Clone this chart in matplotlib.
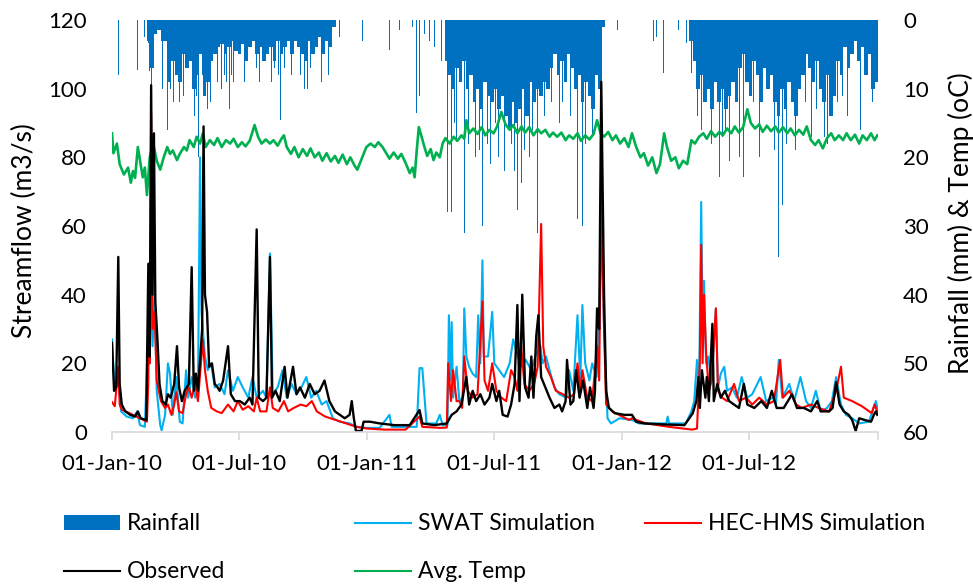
import numpy as np
import matplotlib
matplotlib.use("Agg")
import matplotlib.pyplot as plt
import matplotlib.dates as mdates
from matplotlib.patches import Patch
from matplotlib.lines import Line2D

plt.rcParams['font.family'] = ['Lato', 'DejaVu Sans']

# days counted from 01-Jan-2010
obs_day = [0, 3, 6, 9, 11, 14, 19, 26, 33, 37, 41, 49, 52, 54, 56, 58, 60, 62, 65, 68, 72,
           77, 80, 84, 89, 93, 96, 100, 104, 110, 114, 117, 120, 123, 129, 131, 133, 136, 139,
           143, 147, 151, 154, 159, 166, 170, 176, 183, 190, 197, 201, 207, 210, 216, 221, 226,
           229, 234, 240, 247, 251, 259, 264, 269, 276, 283, 290, 297, 304, 311, 319, 326, 333,
           340, 343, 346, 349, 357, 360, 369, 383, 404, 426, 440, 444, 461, 479, 486, 493, 500,
           507, 511, 516, 521, 527, 533, 540, 544, 550, 554, 559, 566, 571, 576, 580, 583, 587,
           591, 596, 600, 603, 607, 610, 614, 620, 626, 633, 640, 644, 649, 651, 656, 660, 664,
           669, 674, 680, 684, 689, 691, 694, 697, 700, 704, 707, 711, 719, 733, 744, 750, 761,
           790, 819, 826, 831, 836, 839, 841, 844, 849, 851, 854, 859, 861, 866, 871, 877, 883,
           890, 897, 904, 909, 919, 929, 937, 944, 951, 961, 973, 980, 990, 1000, 1009, 1014,
           1026, 1031, 1036, 1041, 1047, 1054, 1059, 1064, 1069, 1077, 1086, 1090, 1093, 1095]
obs_q = [26, 12, 13, 51, 14, 8, 6, 5, 4.5, 6, 4, 3.5, 49, 22, 101, 40, 87, 38, 27, 14, 9,
         8, 11, 10, 14, 25, 13, 9, 12, 14, 48, 12, 17, 12, 30, 89, 40, 35, 19,
         20, 14, 13, 12, 15, 25, 11, 9, 9, 8, 10, 8, 59, 10, 9, 10, 51,
         10, 12, 9, 19, 10, 19, 11, 13, 10, 14, 11, 12, 15, 9, 6, 5, 4,
         5, 9, 4, 0.3, 0.3, 3, 3, 2.5, 2, 2, 6.4, 2.5, 2, 2.5, 5, 6, 8,
         16, 8, 12, 9, 11, 8, 10, 14, 9, 12, 5, 4.5, 8, 14, 37, 9, 40,
         13, 10, 22, 10, 28, 34, 16, 13, 10, 7, 8, 6, 9, 21, 8, 9, 18,
         10, 15, 7, 13, 7, 12, 36, 30, 102, 40, 12, 7, 5.5, 5, 5, 3, 2.5,
         2.2, 2, 4, 5.5, 9, 16, 7, 18, 10, 16, 9, 31.5, 9, 14, 10, 12, 9,
         8, 7, 14, 8, 7, 9, 7, 12, 7, 7, 11, 7, 7, 6, 9, 6,
         6, 7, 14.5, 8, 6, 5, 3.5, 0.3, 4, 3.5, 3, 5, 6, 5]

swat_day = [0, 4, 9, 13, 21, 30, 36, 40, 47, 52, 55, 58, 61, 64, 69, 71, 76, 80, 83, 87, 92,
            97, 101, 106, 109, 114, 119, 123, 126, 128, 133, 137, 142, 147, 154, 161, 166, 173,
            180, 187, 195, 201, 207, 216, 221, 226, 230, 237, 244, 250, 257, 264, 271, 278, 285,
            292, 300, 307, 316, 326, 340, 350, 364, 383, 397, 400, 436, 440, 444, 450, 464, 469,
            473, 480, 482, 484, 486, 488, 493, 497, 502, 504, 507, 511, 516, 521, 524, 527, 530,
            532, 538, 544, 547, 554, 561, 569, 574, 578, 585, 592, 600, 607, 613, 616, 621, 626,
            633, 640, 650, 654, 660, 666, 670, 673, 677, 683, 687, 693, 697, 700, 704, 709, 714,
            726, 744, 754, 793, 795, 797, 821, 829, 833, 837, 840, 843, 845, 847, 850, 853, 858,
            864, 867, 871, 876, 880, 887, 894, 901, 909, 916, 928, 936, 945, 950, 954, 959, 969,
            976, 985, 993, 1000, 1007, 1014, 1023, 1030, 1036, 1043, 1050, 1059, 1069, 1083,
            1093, 1095]
swat_q = [27, 12, 15, 6, 4.5, 4, 6, 2, 1.5, 30, 45, 25, 40, 12, 2, 0.5, 5, 20, 17, 5, 16,
          3, 2.5, 18, 10, 16, 10, 12, 80, 35, 22, 18, 20, 13, 14, 11, 18, 12,
          16, 13, 10, 16, 10, 12, 10, 52, 11, 13, 18, 10, 14, 11, 13, 16, 10,
          12, 8, 9, 4, 3, 2.5, 1.5, 1.2, 1.2, 5, 1.5, 1.5, 18.6, 18.6, 2.5, 2.5, 5,
          2, 2, 34, 15, 32, 10, 19, 9, 10, 36, 22, 19, 17, 16, 34, 20, 50,
          22, 22, 35, 20, 18, 16, 20, 27, 24, 19, 21, 18, 23, 25, 20, 22, 18,
          13, 11, 10, 18, 12, 34, 15, 37, 20, 15, 20, 16, 30, 60, 30, 4, 2.5,
          4, 3.5, 2.5, 2.5, 4.5, 2.5, 2.5, 6, 9, 21, 12, 67, 30, 44, 20, 22, 15,
          36, 13, 17, 19, 12, 13, 10, 16, 10, 11, 16, 9, 10, 8, 21, 10, 14,
          9, 16, 9, 7, 12, 6, 7, 9, 16, 8, 5, 4, 2.5, 3,
          9, 7]

hms_day = [0, 4, 9, 11, 14, 25, 35, 45, 50, 52, 53, 54, 56, 58, 61, 64, 70, 76, 80, 85, 89,
           92, 96, 101, 106, 110, 114, 119, 123, 130, 133, 137, 142, 150, 157, 166, 174, 180,
           187, 195, 203, 207, 212, 221, 226, 230, 238, 246, 252, 260, 270, 278, 286, 293, 305,
           320, 335, 350, 365, 390, 420, 440, 444, 470, 479, 481, 485, 488, 493, 497, 501, 504,
           509, 516, 523, 530, 533, 538, 544, 550, 557, 564, 571, 576, 580, 585, 590, 597, 604,
           609, 614, 617, 621, 628, 635, 645, 654, 661, 666, 670, 673, 680, 687, 694, 697, 700,
           704, 707, 716, 730, 740, 744, 764, 797, 830, 837, 841, 843, 845, 847, 850, 854, 858,
           864, 867, 873, 880, 890, 897, 907, 916, 926, 937, 947, 956, 960, 969, 979, 987, 1000,
           1011, 1026, 1036, 1043, 1047, 1059, 1073, 1087, 1091, 1095]
hms_q = [8.7, 7.5, 19, 8, 6.5, 5.5, 4.5, 3.5, 3, 15, 49, 20, 93, 30, 35, 15, 9, 7, 8, 5, 8,
         11.6, 6, 5.5, 11, 13, 10, 14, 9, 27, 18, 12, 7, 6, 5.5, 8, 6, 9,
         6.5, 7.5, 6, 10, 6, 6, 13, 7, 6, 9, 6, 7, 8, 7.5, 9, 6, 4.5,
         3.5, 2.5, 1.5, 1, 0.7, 0.7, 4.5, 1.5, 1.2, 1.3, 20, 9, 18, 9, 9, 7, 22,
         12, 10, 11, 38, 15, 12, 20, 12, 10, 9, 18, 16, 12, 26, 14, 12, 14,
         19, 60.6, 25, 19, 16, 12, 11, 10, 11, 20, 12, 18, 10, 9, 25, 15, 70,
         30, 8, 6, 4.5, 3.5, 4, 2.5, 1.5, 0.7, 1, 20, 54.5, 20, 40, 23, 12, 15,
         36, 12, 10, 9, 14, 9, 10, 8, 10, 8, 9, 21, 10, 12, 8, 7, 8,
         7, 6, 12, 19, 10, 9, 7.5, 5.5, 8, 6]

temp_day = [0, 2, 7, 11, 17, 23, 27, 30, 33, 37, 41, 44, 47, 50, 54, 59, 64, 69, 74, 79, 83,
            87, 93, 97, 103, 107, 111, 117, 121, 126, 130, 134, 140, 146, 151, 157, 163, 169,
            174, 180, 186, 191, 197, 204, 209, 214, 220, 226, 231, 237, 243, 246, 250, 256, 261,
            267, 273, 279, 284, 290, 296, 301, 307, 313, 319, 324, 330, 336, 341, 347, 351, 356,
            360, 364, 370, 376, 381, 387, 393, 397, 403, 409, 414, 420, 426, 430, 433, 436, 439,
            443, 447, 451, 456, 460, 464, 469, 473, 477, 483, 489, 494, 500, 504, 507, 511, 517,
            523, 529, 534, 540, 546, 551, 557, 563, 569, 574, 580, 586, 591, 597, 603, 609, 614,
            620, 626, 631, 637, 643, 649, 654, 660, 666, 671, 677, 683, 689, 694, 699, 704, 710,
            716, 721, 727, 733, 739, 744, 750, 756, 761, 767, 773, 779, 784, 790, 794, 800, 806,
            811, 817, 823, 829, 834, 840, 846, 851, 857, 863, 869, 874, 880, 886, 891, 897, 903,
            909, 914, 920, 926, 931, 937, 943, 949, 954, 960, 966, 971, 977, 983, 989, 994, 1000,
            1006, 1011, 1017, 1023, 1029, 1034, 1040, 1046, 1051, 1057, 1063, 1069, 1074, 1080,
            1086, 1091, 1095]
temp_c = [16.5, 19.4, 18, 21, 22.5, 21.5, 23.7, 22, 23, 18.5, 21, 22.9, 21.5, 25.5, 20, 18, 20.5,
          21.8, 20, 18.5, 19.5, 19, 20.4, 19.5, 18.5, 19, 17.5, 18.5, 17, 18, 16.5, 18.5, 17.5,
          18.2, 17.2, 18.5, 17.5, 18, 17.3, 18.5, 17.8, 18.4, 17.6, 15.3, 17, 18, 17.4, 18, 17.5,
          18.3, 17.2, 16.8, 18.5, 19.5, 18.5, 20, 18.8, 19.8, 18.7, 20, 19.3, 20.5, 19.4, 20.6,
          19.8, 20.8, 19.6, 21, 20, 21.2, 21.8, 20.5, 19.5, 18.5, 18, 18.5, 17.8, 18.5, 19.5,
          20.2, 19.3, 20.2, 19.5, 20.8, 22.3, 21.5, 22.9, 19, 15.6, 17, 18.5, 19.8, 18.8, 20.4,
          19.3, 20, 18, 17.2, 18, 17, 17.6, 16.8, 17.3, 14.6, 16.5, 15.8, 16.6, 15.6, 16.8, 16,
          16.5, 15.5, 13.4, 15.2, 16, 15.3, 16.5, 15.5, 16.4, 15.6, 16.8, 15.9, 16.5, 16, 17,
          16.4, 17, 16.4, 17.5, 16.8, 17.3, 16.5, 17.6, 16.8, 17.4, 16.6, 14.6, 16.5, 17, 16.3,
          17.5, 16.8, 18, 17.2, 18.5, 16.5, 18.5, 20, 19.4, 21.2, 20, 22.3, 21, 16.5, 18.5, 20.5,
          20, 21.6, 20.5, 21, 17.5, 18, 17, 16.5, 17.3, 16.2, 17, 16.3, 16.8, 15.8, 16.5, 15.5,
          16.4, 15.6, 13, 15, 15.8, 15.2, 16.3, 15.4, 16.2, 15.5, 16.4, 15.6, 16.5, 15.8, 16.8,
          16, 16.7, 15.5, 17.5, 18.2, 17.5, 18.7, 17.2, 16.5, 17.5, 16.8, 17.5, 16.5, 17.5, 16.7,
          18, 16.8, 17.5, 16.5, 17.5, 16.8]

# rainfall, wet-season blocks of 5 days (mm)
rain10_start = 50
rain10_mm = [3, 7, 2, 1.5, 3, 3, 9, 6, 8, 9, 5, 7, 6, 10, 8, 5, 11, 9, 6, 5, 4, 3.5, 5, 4,
             3, 4.5, 5, 3.5, 6, 4, 3, 5, 4, 6, 5, 4, 6, 3, 5, 4, 3, 5, 3, 4, 5, 6, 3, 5,
             4, 2.5, 5, 3, 4, 1]
rain11_start = 476
rain11_mm = [6, 8, 10, 7, 9, 6, 10, 8, 12, 10, 13, 9, 11, 12, 10, 13, 11, 14, 16, 12, 15, 13,
             10, 14, 9, 12, 10, 11, 9, 10, 7, 5, 8, 6, 9, 5, 7, 10, 8, 12, 9, 11, 13, 8, 10, 1]
rain12_start = 826
rain12_mm = [3, 6, 10, 8, 12, 10, 13, 9, 12, 10, 13, 11, 9, 12, 7, 5, 9, 11, 6, 8, 12, 7, 10,
             8, 12, 14, 10, 13, 9, 12, 14, 10, 8, 5, 7, 9, 6, 10, 12, 8, 14, 11, 6, 8, 4, 7,
             5, 3, 6, 4, 8, 5, 10, 9]

# single rain days (mm)
storm_day = [0, 3, 9, 13, 36, 47, 52, 54, 57, 60, 66, 72, 79, 84, 88, 93, 97, 102, 106, 110,
             113, 118, 121, 124, 129, 133, 137, 141, 146, 151, 157, 161, 164, 168, 171, 174,
             179, 186, 190, 196, 203, 207, 211, 216, 223, 228, 233, 238, 241, 247, 252, 257,
             262, 266, 270, 275, 280, 284, 289, 296, 300, 306, 310, 316, 326, 342, 358, 375,
             397, 411, 430, 436, 440, 447, 454, 461, 471, 475, 478, 480, 486, 490, 493, 498,
             504, 510, 515, 520, 526, 530, 537, 542, 545, 549, 553, 558, 562, 567, 572, 576,
             580, 586, 590, 597, 602, 609, 614, 619, 624, 629, 640, 645, 651, 656, 661, 666,
             673, 677, 681, 687, 694, 699, 714, 723, 775, 779, 789, 794, 811, 822, 829, 838,
             843, 847, 850, 854, 858, 864, 869, 873, 878, 883, 890, 898, 904, 910, 918, 926,
             933, 940, 948, 954, 959, 965, 973, 978, 983, 992, 1001, 1008, 1019, 1024, 1030,
             1038, 1045, 1052, 1060, 1071, 1080, 1088, 1091]
storm_mm = [23, 3.4, 8, 1, 7.3, 2.5, 3.4, 7.5, 14.6, 6, 5, 10, 16, 10, 12, 15, 12, 11, 13, 20,
            16.5, 14, 11, 20, 8, 14, 13, 12, 17.5, 9, 10, 8, 9, 13, 8, 9,
            11, 10, 9, 10, 15, 7, 9, 11, 8, 9, 7, 8, 14.6, 7, 9, 8,
            11, 9, 8, 10, 10, 7, 12.5, 8, 9, 9, 8, 3, 2.5, 6.8, 3, 1.5,
            4.4, 1.5, 1, 13.5, 11, 2, 3, 4, 6, 9, 14, 28, 28, 15, 17.5, 17,
            31, 18, 16, 20, 19, 30, 18, 21, 16, 15, 20, 17, 22, 16, 18, 22,
            27.7, 23.7, 19, 20, 16, 31, 31, 14, 18, 12, 15, 12, 16, 14, 16, 29,
            30, 18, 20, 17, 30, 25, 4.4, 1.5, 3, 2.5, 7.7, 5, 1.5, 3.4, 7.7, 14,
            16, 35, 27.7, 32, 18, 42, 22.8, 17, 16, 20.5, 15, 20, 22.8, 16, 12, 20,
            17, 14, 19, 34.5, 27, 18, 24, 19, 21, 12, 17, 13, 17, 18, 20.5,
            12, 11, 14, 9, 16, 12, 12, 10]

tick_dates = ['2010-01-01', '2010-07-01', '2011-01-01', '2011-07-01',
              '2012-01-01', '2012-07-01', '2013-01-01']
tick_labels = ['01-Jan-10', '01-Jul-10', '01-Jan-11', '01-Jul-11',
               '01-Jan-12', '01-Jul-12', '']

BASE = np.datetime64('2010-01-01')


def to_num(days):
    """Day offsets -> matplotlib date numbers."""
    return mdates.date2num(BASE + np.asarray(days, dtype='int64').astype('timedelta64[D]'))


def blocks(start, vals):
    days = start + 5 * np.arange(len(vals))
    return to_num(days), vals


RAIN = '#0070C0'
SWAT = '#00B0F0'
HMS = '#FF0000'
OBS = '#000000'
TEMP = '#00B050'
GRID = '#D9D9D9'

fig = plt.figure(figsize=(9.73, 5.88), dpi=100)
ax = fig.add_axes([0.1151, 0.2653, 0.7873, 0.7007])
ax2 = ax.twinx()

for start, vals in [(rain10_start, rain10_mm), (rain11_start, rain11_mm), (rain12_start, rain12_mm)]:
    x, h = blocks(start, vals)
    ax2.bar(x, h, width=5, align='edge', color=RAIN, linewidth=0)
ax2.bar(to_num(storm_day), storm_mm, width=1.0, color=RAIN, linewidth=0)
ax2.plot(to_num(temp_day), temp_c, color=TEMP, lw=1.9)

ax.plot(to_num(swat_day), swat_q, color=SWAT, lw=1.5)
ax.plot(to_num(hms_day), hms_q, color=HMS, lw=1.5)
ax.plot(to_num(obs_day), obs_q, color=OBS, lw=1.7)

ax.set_zorder(ax2.get_zorder() + 1)
ax.patch.set_visible(False)

x0, x1 = to_num([0, 1096])
ax.set_xlim(x0, x1)
ax.set_ylim(0, 120)
ax2.set_ylim(60, 0)

ax.set_yticks(np.arange(0, 121, 20))
ax2.set_yticks(np.arange(0, 61, 10))
ax.set_xticks(mdates.date2num(np.array(tick_dates, dtype='datetime64[D]')))
ax.set_xticklabels(tick_labels)

for a in (ax, ax2):
    for s in a.spines.values():
        s.set_visible(False)
ax.spines['bottom'].set_visible(True)
ax.spines['bottom'].set_color(GRID)
ax.spines['bottom'].set_linewidth(1.2)

ax.tick_params(axis='x', direction='out', length=6, width=1.2, color=GRID,
               labelsize=16, pad=10)
ax.tick_params(axis='y', length=0, labelsize=16, pad=18)
ax2.tick_params(axis='y', length=0, labelsize=16, pad=18)

ax.set_ylabel('Streamflow (m3/s)', fontsize=19)
ax.yaxis.set_label_coords(-0.098, 0.49)
ax2.set_ylabel('Rainfall (mm) & Temp (oC)', fontsize=19)
ax2.yaxis.set_label_coords(1.091, 0.506)

# legend, placed entry by entry like the original
entries = [
    (Patch(facecolor=RAIN, edgecolor='none'), 'Rainfall', 64, 524),
    (Line2D([], [], color=SWAT, lw=1.5), 'SWAT Simulation', 355, 524),
    (Line2D([], [], color=HMS, lw=1.5), 'HEC-HMS Simulation', 645, 524),
    (Line2D([], [], color=OBS, lw=1.5), 'Observed', 64, 572),
    (Line2D([], [], color=TEMP, lw=1.5), 'Avg. Temp', 355, 572),
]
for h, lab, px, py in entries:
    fig.legend(handles=[h], labels=[lab], loc='center left',
               bbox_to_anchor=(px / 973, 1 - py / 588), frameon=False,
               fontsize=16.5, handlelength=2.45, handleheight=0.62,
               handletextpad=0.3, borderpad=0, borderaxespad=0)

fig.savefig('out.png', dpi=100)
plt.close(fig)
